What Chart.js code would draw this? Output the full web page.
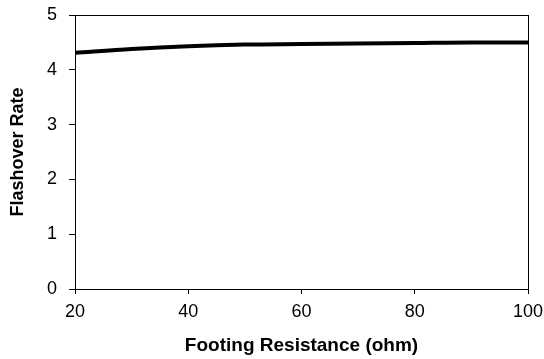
<!DOCTYPE html>
<html>
<head>
<meta charset="utf-8">
<script src="https://cdn.jsdelivr.net/npm/chart.js@4/dist/chart.umd.min.js"></script>
<style>
html,body{margin:0;padding:0;background:#fff;}
#wrap{width:544px;height:359px;}
</style>
</head>
<body>
<div id="wrap"><canvas id="c" width="544" height="359"></canvas></div>
<script>
const footingResistance = [20, 30, 40, 50, 60, 70, 80, 90, 100];
const flashoverRate = [4.31, 4.38, 4.43, 4.46, 4.47, 4.48, 4.49, 4.50, 4.50];
const xTicks = [20, 40, 60, 80, 100];
const yTicks = [0, 1, 2, 3, 4, 5];
const xTitle = 'Footing Resistance (ohm)';
const yTitle = 'Flashover Rate';

const frame = {
  id: 'frame',
  afterDatasetsDraw(chart) {
    const a = chart.chartArea, ctx = chart.ctx;
    ctx.save();
    ctx.strokeStyle = '#000';
    ctx.lineWidth = 1;
    ctx.strokeRect(Math.round(a.left) + 0.5, Math.round(a.top) + 0.5,
      Math.round(a.right - a.left), Math.round(a.bottom - a.top));
    ctx.restore();
  }
};

new Chart(document.getElementById('c'), {
  type: 'line',
  data: {
    datasets: [{
      data: footingResistance.map((x, i) => ({x, y: flashoverRate[i]})),
      borderColor: '#000',
      borderWidth: 4,
      pointRadius: 0,
      cubicInterpolationMode: 'monotone',
      fill: false
    }]
  },
  options: {
    responsive: false,
    animation: false,
    layout: {padding: {top: 15, right: 16, left: 0, bottom: 0}},
    plugins: {legend: {display: false}, tooltip: {enabled: false}},
    scales: {
      x: {
        type: 'linear', min: 20, max: 100,
        afterBuildTicks: s => { s.ticks = xTicks.map(v => ({value: v})); },
        afterFit: s => { s.height = 70; s.paddingLeft = 0; s.paddingRight = 0; },
        grid: {drawOnChartArea: false, drawTicks: true, tickLength: 5, color: '#000'},
        border: {display: true, color: '#000'},
        ticks: {color: '#000', padding: 7, maxRotation: 0, font: {family: 'Liberation Sans', size: 18}},
        title: {display: true, text: xTitle, color: '#000', padding: {top: 0, bottom: 2},
          font: {family: 'Liberation Sans', size: 19, weight: 'bold'}}
      },
      y: {
        min: 0, max: 5,
        afterBuildTicks: s => { s.ticks = yTicks.map(v => ({value: v})); },
        afterFit: s => { s.width = 75; s.paddingTop = 0; s.paddingBottom = 0; },
        grid: {drawOnChartArea: false, drawTicks: true, tickLength: 6, color: '#000'},
        border: {display: true, color: '#000'},
        ticks: {color: '#000', padding: 12, font: {family: 'Liberation Sans', size: 18}},
        title: {display: true, text: yTitle, color: '#000', padding: {top: 7, bottom: 0},
          font: {family: 'Liberation Sans', size: 18, weight: 'bold'}}
      }
    }
  },
  plugins: [frame]
});
</script>
</body>
</html>
